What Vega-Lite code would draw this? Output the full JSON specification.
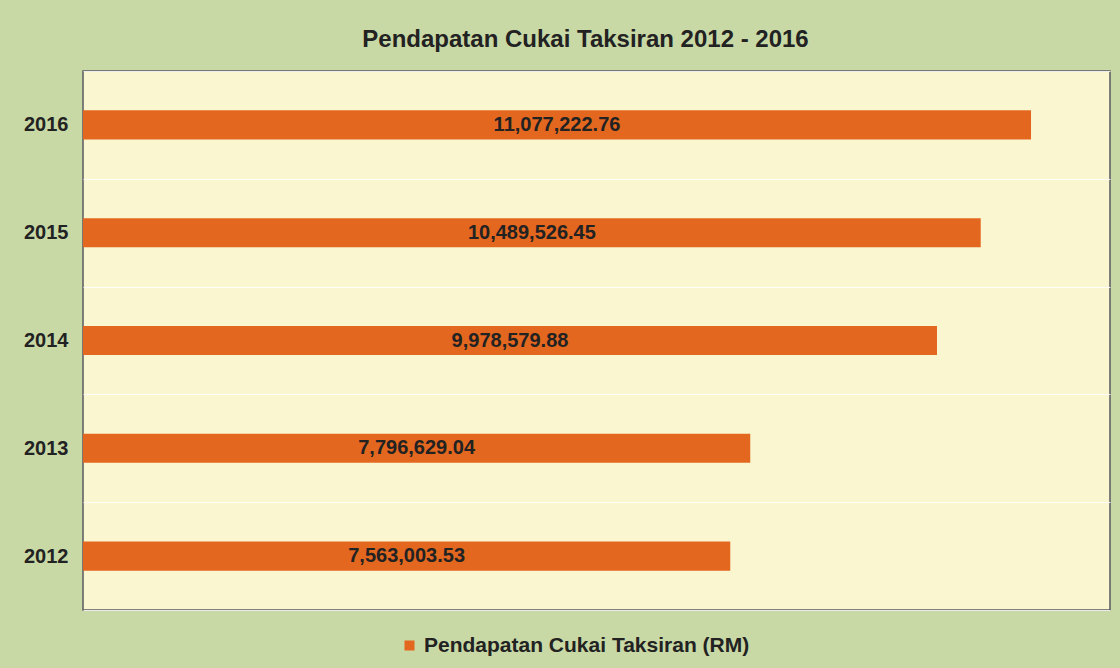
{
  "$schema": "https://vega.github.io/schema/vega-lite/v6.json",
  "width": 1027,
  "height": 539,
  "autosize": {"type": "none"},
  "padding": {"left": 83, "top": 71, "right": 10, "bottom": 58},
  "background": "#c9d9a6",
  "title": {
    "text": "Pendapatan Cukai Taksiran 2012 - 2016",
    "font": "Liberation Sans",
    "fontSize": 24,
    "fontWeight": "bold",
    "color": "#222222",
    "anchor": "middle",
    "dx": -11,
    "offset": 9
  },
  "data": {
    "values": [
      {"year": "2016", "v": 11077222.76, "series": "Pendapatan Cukai Taksiran (RM)"},
      {"year": "2015", "v": 10489526.45, "series": "Pendapatan Cukai Taksiran (RM)"},
      {"year": "2014", "v": 9978579.88, "series": "Pendapatan Cukai Taksiran (RM)"},
      {"year": "2013", "v": 7796629.04, "series": "Pendapatan Cukai Taksiran (RM)"},
      {"year": "2012", "v": 7563003.53, "series": "Pendapatan Cukai Taksiran (RM)"}
    ]
  },
  "encoding": {
    "y": {
      "field": "year",
      "type": "nominal",
      "sort": "descending",
      "scale": {"paddingInner": 0, "paddingOuter": 0},
      "axis": {
        "title": null,
        "ticks": false,
        "domain": false,
        "tickBand": "extent",
        "grid": true,
        "gridColor": "#ffffff",
        "gridOpacity": 0.85,
        "gridWidth": 1.2,
        "labelFont": "Liberation Sans",
        "labelFontSize": 20,
        "labelFontWeight": "bold",
        "labelColor": "#222222",
        "labelPadding": 15
      }
    }
  },
  "layer": [
    {
      "mark": {"type": "bar", "color": "#e3671f", "height": {"band": 0.27}},
      "encoding": {
        "x": {"field": "v", "type": "quantitative", "scale": {"domain": [0, 12000000]}, "axis": null},
        "color": {
          "field": "series",
          "type": "nominal",
          "scale": {"range": ["#e3671f"]},
          "legend": {
            "title": null,
            "orient": "none",
            "legendX": 316,
            "legendY": 564,
            "direction": "horizontal",
            "symbolType": "square",
            "symbolSize": 100,
            "symbolStrokeWidth": 0,
            "labelFont": "Liberation Sans",
            "labelFontSize": 21,
            "labelFontWeight": "bold",
            "labelColor": "#222222",
            "labelOffset": 4,
            "labelLimit": 0
          }
        }
      }
    },
    {
      "mark": {"type": "text", "font": "Liberation Sans", "fontSize": 20, "fontWeight": "bold", "color": "#222222", "align": "center", "baseline": "middle"},
      "encoding": {
        "x": {"field": "v", "type": "quantitative", "scale": {"domain": [0, 24000000]}, "axis": null},
        "text": {"field": "v", "type": "quantitative", "format": ",.2f"}
      }
    }
  ],
  "resolve": {"scale": {"x": "independent"}},
  "config": {
    "view": {"fill": "#faf7d0", "stroke": "#5a5a60", "strokeWidth": 1.5}
  }
}
